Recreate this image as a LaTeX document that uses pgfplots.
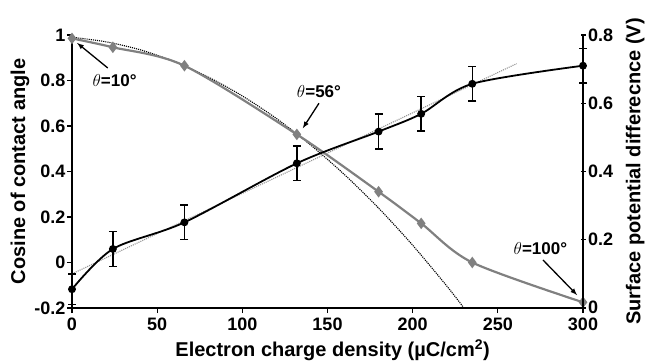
\documentclass[border=0pt]{standalone}
\usepackage{pgfplots}
\pgfplotsset{compat=1.18}
\usetikzlibrary{calc}
\usepackage{fontspec}
\setmainfont{Liberation Sans}
\definecolor{gr}{RGB}{128,128,128}
\definecolor{grl}{RGB}{150,150,150}
\newcommand{\lbl}{\fontsize{20}{22}\selectfont\bfseries}
\newcommand{\tkl}{\fontsize{18}{20}\selectfont\bfseries}
\newcommand{\ann}{\fontsize{17}{19}\selectfont\bfseries}
\begin{document}
\begin{tikzpicture}
\pgfplotsset{
  common/.style={
    scale only axis, width=511pt, height=273pt,
    xmin=0, xmax=300, clip=false,
    axis line style={line width=1.5pt},
    tick style={black, line width=1.2pt},
    major tick length=5pt,
    ticklabel style={font=\tkl},
    label style={font=\lbl},
  }
}
\begin{axis}[common, name=ax,
  ymin=-0.2, ymax=1,
  axis x line*=bottom, axis y line*=left,
  tick align=outside,
  xtick={0,50,100,150,200,250,300},
  xticklabels={0,50,100,150,200,250,300},
  ytick={-0.2,0,0.2,0.4,0.6,0.8,1},
  yticklabels={-0.2,0,0.2,0.4,0.6,0.8,1},
  xticklabel style={yshift=-1pt},
  yticklabel style={xshift=2pt},
  xlabel={Electron charge density (\textmu C/cm\textsuperscript{2})},
  ylabel={Cosine of contact angle},
  xlabel style={at={(axis description cs:0.51,-0.154)}, anchor=center},
  ylabel style={at={(axis description cs:-0.102,0.5)}, anchor=center, rotate=0},
]
% quadratic-like fit (dotted black)
\addplot[black, densely dotted, line width=1.1pt, smooth] coordinates {
 (0,0.99) (20,0.970) (40,0.935) (60,0.883) (80,0.815) (100,0.732) (120,0.633)
 (140,0.517) (160,0.386) (180,0.239) (200,0.076) (220,-0.103) (230,-0.199)};
% cosine of contact angle
\addplot[gr, line width=2.2pt, smooth, tension=0.5, mark=diamond*, mark size=4pt, mark options={fill=gr, draw=gr}] coordinates {
 (0,0.985) (24,0.946) (66,0.865) (132,0.563) (180,0.311) (205,0.172) (235,0.0) (300,-0.175)};
\draw[-latex, line width=1.3pt] (axis cs:21,0.855) -- (axis cs:3,0.965);
\node[font=\ann] at (axis cs:25,0.80) {$\theta$=10°};
\draw[-latex, line width=1.3pt] (axis cs:145,0.70) -- (axis cs:135.5,0.59);
\node[font=\ann] at (axis cs:145,0.75) {$\theta$=56°};
\draw[-latex, line width=1.3pt] (axis cs:276.5,0.011) -- (axis cs:296.5,-0.143);
\node[font=\ann] at (axis cs:275,0.06) {$\theta$=100°};
\end{axis}
\begin{axis}[common,
  at={(ax.south west)}, anchor=south west,
  ymin=0, ymax=0.8,
  axis x line=none, axis y line*=right,
  tick align=center,
  ytick={0,0.2,0.4,0.6,0.8},
  yticklabels={\raisebox{2pt}{0},0.2,0.4,0.6,0.8},
  yticklabel style={xshift=-1pt},
  ylabel={Surface potential differecnce (V)},
  ylabel style={at={(axis description cs:1.102,0.5)}, anchor=center},
]
% linear fit (dotted gray)
\addplot[grl, densely dotted, line width=1.1pt] coordinates {(0,0.10) (261,0.716)};
\addplot[black, line width=1.8pt, smooth, tension=0.5, mark=*, mark size=3pt,
  error bars/.cd, y dir=both, y explicit, error bar style={line width=1.5pt}, error mark options={rotate=90, mark size=4pt, line width=1.5pt}]
 coordinates {
 (0,0.055) +- (0,0.045)
 (24,0.173) +- (0,0.051)
 (66,0.251) +- (0,0.051)
 (132,0.424) +- (0,0.05)
 (180,0.517) +- (0,0.051)
 (205,0.569) +- (0,0.051)
 (235,0.657) +- (0,0.05)
 (300,0.710) +- (0,0.051)};
\end{axis}
\pgfresetboundingbox
\path ($(ax.south west)+(-72pt,-55pt)$) rectangle ($(ax.north east)+(66pt,35pt)$);
\end{tikzpicture}
\end{document}
